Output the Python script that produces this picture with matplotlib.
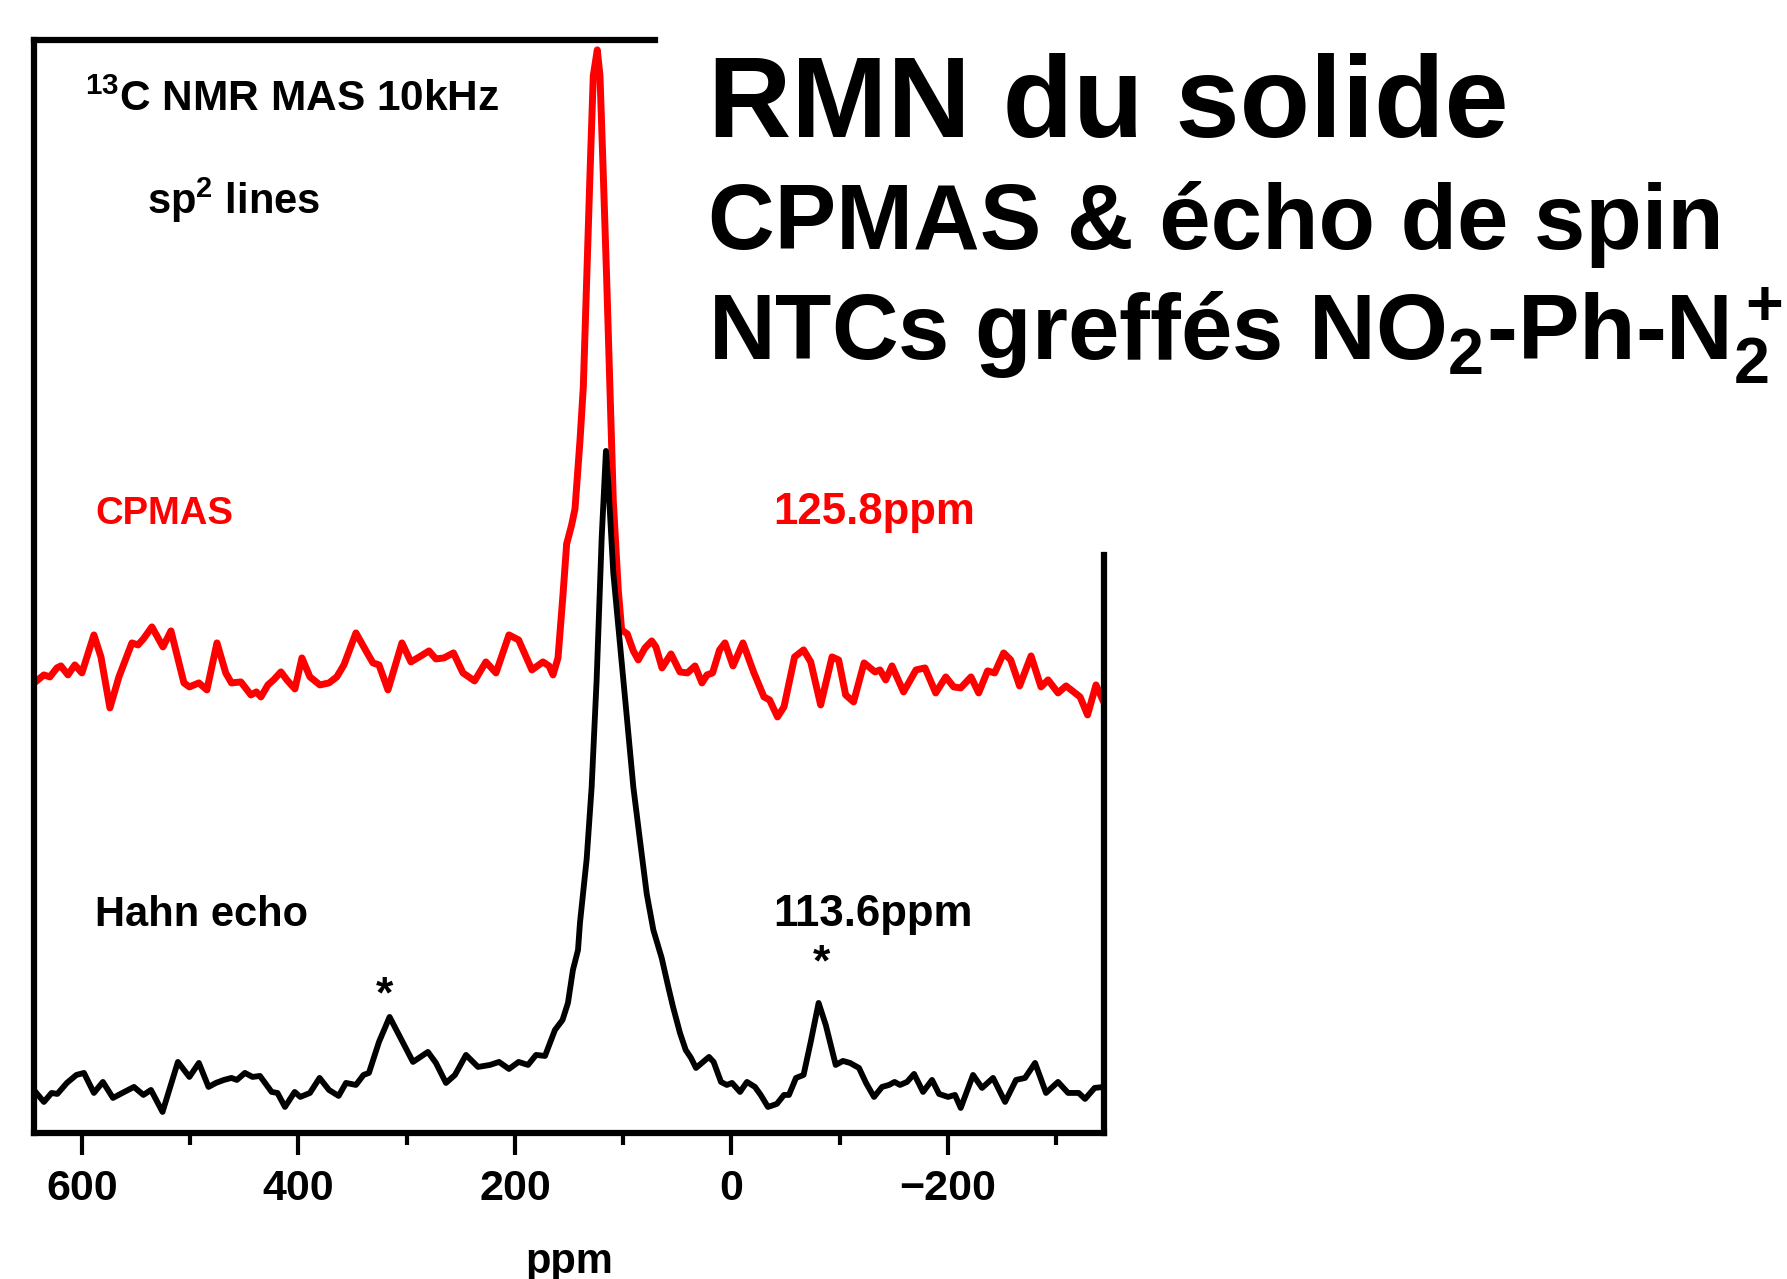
import matplotlib
matplotlib.use('Agg')
import matplotlib.pyplot as plt

plt.rcParams['font.family'] = ['Liberation Sans', 'DejaVu Sans']
plt.rcParams['font.weight'] = 'bold'
plt.rcParams['mathtext.fontset'] = 'custom'
plt.rcParams['mathtext.rm'] = 'Liberation Sans:bold'
plt.rcParams['mathtext.it'] = 'Liberation Sans:bold'
plt.rcParams['mathtext.bf'] = 'Liberation Sans:bold'

# CPMAS trace (ppm, intensity a.u.)
cp_ppm = [644.1, 635.2, 629.7, 623.2, 619.5, 613.0, 606.6, 600.1, 589.0, 582.5,
          574.2, 565.9, 553.9, 548.3, 543.3, 535.4, 525.2, 517.8, 505.8, 500.8,
          492.0, 484.6, 475.3, 467.2, 461.9, 453.2, 443.9, 438.9, 434.7, 428.2,
          423.0, 416.2, 410.7, 403.3, 396.8, 389.4, 380.2, 371.8, 364.6, 358.0,
          346.9, 338.1, 331.2, 325.6, 317.3, 304.4, 296.1, 286.8, 279.4, 273.0,
          265.6, 256.8, 248.0, 237.3, 226.8, 217.5, 205.5, 196.6, 184.3, 174.1,
          168.5, 164.8, 160.2, 155.6, 152.2, 147.6, 144.5, 139.9, 136.8, 133.7,
          130.6, 127.6, 123.9, 121.4, 118.4, 115.2, 112.2, 109.1, 104.5, 101.4,
          96.2, 90.6, 86.0, 79.8, 73.6, 69.7, 64.1, 55.8, 47.5, 40.6,
          33.6, 27.2, 22.5, 17.4, 10.9, 5.9, -1.5, -10.7, -20.5, -30.1,
          -35.3, -42.6, -48.6, -58.4, -66.7, -73.3, -82.5, -93.0, -99.1, -105.6,
          -112.9, -122.6, -132.7, -137.3, -142.6, -148.4, -159.1, -170.6, -178.9, -188.8,
          -198.1, -205.4, -211.9, -221.4, -228.5, -236.7, -243.3, -251.6, -258.1, -266.3,
          -276.9, -286.1, -292.6, -301.8, -309.2, -317.5, -322.2, -329.1, -336.9, -344.3]
cp_int = [45.0, 45.8, 45.6, 46.5, 46.7, 45.8, 46.8, 46.0, 49.8, 47.6,
          42.5, 45.6, 49.0, 48.8, 49.4, 50.6, 48.6, 50.2, 45.0, 44.6,
          45.0, 44.3, 49.0, 46.0, 45.0, 45.1, 43.8, 44.1, 43.6, 44.8,
          45.3, 46.1, 45.3, 44.4, 47.5, 45.6, 44.8, 45.0, 45.6, 46.8,
          50.0, 48.3, 47.0, 46.8, 44.3, 49.0, 47.1, 47.7, 48.2, 47.4,
          47.5, 48.0, 46.0, 45.2, 47.1, 46.0, 49.8, 49.3, 46.3, 47.1,
          46.7, 45.8, 47.5, 53.8, 58.9, 60.8, 62.4, 69.2, 74.6, 85.3,
          96.0, 105.7, 108.3, 105.7, 96.0, 85.3, 74.6, 63.2, 54.3, 50.3,
          49.9, 48.2, 47.3, 48.5, 49.2, 48.6, 46.5, 47.9, 46.1, 46.0,
          46.7, 45.0, 45.8, 46.0, 48.3, 49.0, 46.7, 49.0, 46.1, 43.6,
          43.3, 41.6, 42.6, 47.6, 48.3, 47.1, 42.8, 47.6, 47.3, 43.8,
          43.1, 47.0, 46.1, 46.3, 45.3, 46.7, 44.1, 46.3, 46.5, 44.0,
          45.6, 44.6, 44.5, 45.6, 44.0, 46.2, 46.0, 48.0, 47.3, 44.7,
          47.7, 44.6, 45.3, 44.0, 44.7, 44.0, 43.6, 41.8, 44.8, 43.0]

# Hahn echo trace
he_ppm = [642.2, 635.2, 628.1, 622.8, 614.0, 605.2, 598.2, 589.0, 580.7, 571.4,
          562.7, 552.0, 543.3, 536.3, 525.6, 511.4, 500.8, 492.0, 483.1, 476.3,
          468.9, 461.9, 456.9, 449.5, 442.4, 435.6, 424.8, 419.4, 412.5, 403.5,
          398.3, 389.4, 380.5, 371.8, 362.9, 356.1, 346.9, 339.9, 334.9, 325.6,
          315.8, 306.2, 294.2, 280.4, 273.0, 263.7, 255.4, 245.2, 234.1, 223.1,
          214.7, 205.5, 196.6, 187.9, 180.5, 172.2, 163.0, 156.0, 151.0, 146.4,
          141.7, 139.9, 133.7, 129.1, 124.5, 119.8, 115.9, 113.7, 109.1, 102.9,
          96.7, 90.6, 84.4, 78.2, 72.1, 64.4, 58.3, 53.9, 47.5, 42.2,
          37.3, 32.7, 27.3, 20.7, 16.4, 9.6, 4.2, -0.6, -8.0, -14.4,
          -21.8, -27.1, -33.8, -42.0, -48.6, -53.2, -59.7, -66.7, -73.3, -80.6,
          -87.2, -96.4, -103.1, -109.6, -117.9, -124.4, -131.8, -139.2, -145.7, -150.8,
          -155.8, -162.3, -168.8, -177.1, -185.4, -191.9, -200.2, -206.6, -211.9, -223.3,
          -231.6, -241.8, -252.9, -263.0, -271.3, -280.6, -290.7, -301.8, -311.1, -320.9,
          -326.8, -335.6, -344.0]
he_int = [4.0, 3.1, 4.0, 3.9, 5.0, 5.8, 6.0, 4.0, 5.1, 3.5,
          4.0, 4.6, 3.8, 4.3, 2.1, 7.1, 5.6, 7.0, 4.6, 5.0,
          5.3, 5.5, 5.3, 6.0, 5.6, 5.7, 4.1, 4.0, 2.6, 4.1,
          3.6, 4.0, 5.5, 4.3, 3.7, 5.0, 4.8, 5.8, 6.0, 9.1,
          11.6, 9.6, 7.1, 8.1, 7.0, 5.0, 5.8, 7.8, 6.6, 6.8,
          7.1, 6.4, 7.1, 6.8, 7.8, 7.7, 10.3, 11.3, 13.0, 16.3,
          18.3, 21.0, 27.4, 34.6, 45.3, 59.6, 68.2, 64.9, 56.0, 48.9,
          41.7, 34.6, 29.2, 23.9, 20.3, 17.5, 14.6, 12.6, 10.0, 8.3,
          7.5, 6.5, 7.0, 7.6, 7.1, 5.1, 4.8, 5.0, 4.1, 5.1,
          4.6, 3.8, 2.6, 2.9, 3.8, 3.8, 5.5, 5.8, 9.1, 13.0,
          10.8, 6.8, 7.2, 7.0, 6.5, 5.0, 3.6, 4.6, 4.8, 5.1,
          4.8, 5.1, 5.9, 4.1, 5.3, 3.9, 3.6, 3.8, 2.5, 5.8,
          4.5, 5.5, 3.1, 5.3, 5.5, 7.0, 4.0, 5.1, 4.0, 4.0,
          3.4, 4.5, 4.6]

# spinning sidebands of the echo spectrum (asterisk positions)
sb_ppm = [320.5, -82.8]
sb_int = [13.7, 16.9]

major_ticks = [600, 400, 200, 0, -200]
minor_ticks = [500, 300, 100, -100, -300]

fig = plt.figure(figsize=(17.87, 12.79), dpi=100)
ax = fig.add_axes([0.0190, 0.1142, 0.5988, 0.8546])

ax.plot(cp_ppm, cp_int, color='#ff0000', lw=5.0, solid_joinstyle='round')
ax.plot(he_ppm, he_int, color='black', lw=4.2, solid_joinstyle='round')

ax.set_xlim(644.4, -344.3)
ax.set_ylim(0, 109.3)

for s in ax.spines.values():
    s.set_linewidth(4.5)
ax.spines['top'].set_bounds(644.4, 70.6)
ax.spines['right'].set_bounds(0, 57.8)

ax.set_xticks(major_ticks)
ax.set_xticks(minor_ticks, minor=True)
ax.set_yticks([])
ax.tick_params(axis='x', which='major', direction='out', length=16, width=3,
               labelsize=31, pad=10)
ax.tick_params(axis='x', which='minor', direction='out', length=8.5, width=3)
ax.set_xlabel('ppm', fontsize=30, fontweight='bold', labelpad=24)

ax.text(0.0477, 0.935, r'$^{13}$C NMR MAS 10kHz', transform=ax.transAxes,
        fontsize=30.5, fontweight='bold', va='baseline')
ax.text(0.1056, 0.841, r'sp$^{2}$ lines', transform=ax.transAxes,
        fontsize=30, fontweight='bold', va='baseline')
ax.text(0.057, 0.557, 'CPMAS', transform=ax.transAxes, color='#ff0000',
        fontsize=27.5, fontweight='bold', va='baseline')
ax.text(0.6907, 0.557, '125.8ppm', transform=ax.transAxes, color='#ff0000',
        fontsize=31.5, fontweight='bold', va='baseline')
ax.text(0.057, 0.189, 'Hahn echo', transform=ax.transAxes,
        fontsize=30, fontweight='bold', va='baseline')
ax.text(0.6907, 0.189, '113.6ppm', transform=ax.transAxes,
        fontsize=31.5, fontweight='bold', va='baseline')
for p, h in zip(sb_ppm, sb_int):
    ax.text(p, h, '*', fontsize=32, fontweight='bold', ha='center', va='center')

fig.text(0.3962, 0.8925, 'RMN du solide', fontsize=83, fontweight='bold', va='baseline')
fig.text(0.3962, 0.8055, 'CPMAS & écho de spin', fontsize=66.5, fontweight='bold', va='baseline')
fig.text(0.3962, 0.7190, r'NTCs greffés NO$_2$-Ph-N$_2^+$', fontsize=66.5,
         fontweight='bold', va='baseline')

fig.savefig('out.png', dpi=100, facecolor='white')
